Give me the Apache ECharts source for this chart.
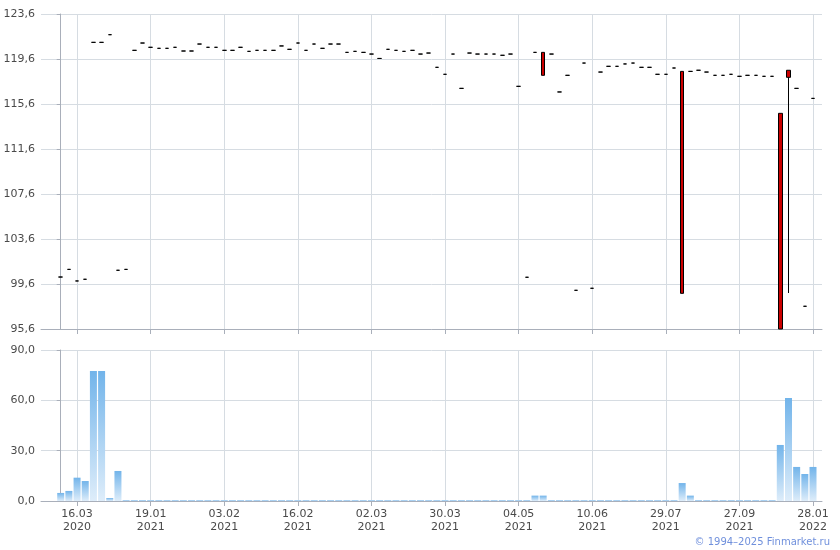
<!DOCTYPE html>
<html>
<head>
<meta charset="utf-8">
<script src="https://cdn.jsdelivr.net/npm/echarts@6/dist/echarts.min.js"></script>
<style>html,body{margin:0;padding:0;background:#fff}#c{width:840px;height:550px}</style>
</head>
<body>
<div id="c"></div>
<script>
var dates = [
 '11.03.2020','13.03.2020','16.03.2020','18.03.2020','20.03.2020','23.03.2020','25.03.2020','02.04.2020','10.04.2020','11.01.2021',
 '14.01.2021','19.01.2021','20.01.2021','21.01.2021','22.01.2021','25.01.2021','26.01.2021','28.01.2021','29.01.2021','01.02.2021',
 '03.02.2021','04.02.2021','05.02.2021','08.02.2021','09.02.2021','10.02.2021','11.02.2021','12.02.2021','15.02.2021','16.02.2021',
 '17.02.2021','18.02.2021','19.02.2021','22.02.2021','24.02.2021','25.02.2021','26.02.2021','01.03.2021','02.03.2021','04.03.2021',
 '05.03.2021','09.03.2021','11.03.2021','15.03.2021','17.03.2021','22.03.2021','25.03.2021','30.03.2021','02.04.2021','06.04.2021',
 '09.04.2021','13.04.2021','16.04.2021','20.04.2021','23.04.2021','28.04.2021','04.05.2021','06.05.2021','12.05.2021','14.05.2021',
 '18.05.2021','21.05.2021','25.05.2021','28.05.2021','03.06.2021','10.06.2021','15.06.2021','18.06.2021','23.06.2021','28.06.2021',
 '01.07.2021','07.07.2021','14.07.2021','21.07.2021','29.07.2021','03.08.2021','06.08.2021','12.08.2021','18.08.2021','25.08.2021',
 '31.08.2021','07.09.2021','15.09.2021','27.09.2021','05.10.2021','14.10.2021','25.10.2021','08.11.2021','19.11.2021','03.12.2021',
 '17.12.2021','29.12.2021','28.01.2022'
];
var opens = [
 100.22,100.9,99.87,100.02,121.08,121.08,121.76,100.82,100.9,120.37,
 121.02,120.64,120.55,120.55,120.64,120.31,120.31,120.93,120.64,120.64,
 120.37,120.37,120.64,120.28,120.37,120.37,120.37,120.76,120.46,121.02,
 120.37,120.93,120.55,120.93,120.93,120.19,120.28,120.19,120.04,119.65,
 120.46,120.37,120.28,120.37,120.04,120.13,118.86,118.24,120.04,116.99,
 120.13,120.04,120.04,120.04,119.93,120.04,117.17,100.2,120.19,120.19,
 120.04,116.67,118.15,99.04,119.24,99.22,118.44,118.95,118.95,119.16,
 119.24,118.86,118.86,118.24,118.24,118.8,118.5,118.5,118.6,118.44,
 118.15,118.15,118.24,118.06,118.15,118.15,118.06,118.06,114.77,118.6,
 116.99,97.62,116.1
];
var closes = [
 100.22,100.9,99.87,100.02,121.08,121.08,121.76,100.82,100.9,120.37,
 121.02,120.64,120.55,120.55,120.64,120.31,120.31,120.93,120.64,120.64,
 120.37,120.37,120.64,120.28,120.37,120.37,120.37,120.76,120.46,121.02,
 120.37,120.93,120.55,120.93,120.93,120.19,120.28,120.19,120.04,119.65,
 120.46,120.37,120.28,120.37,120.04,120.13,118.86,118.24,120.04,116.99,
 120.13,120.04,120.04,120.04,119.93,120.04,117.17,100.2,120.19,118.15,
 120.04,116.67,118.15,99.04,119.24,99.22,118.44,118.95,118.95,119.16,
 119.24,118.86,118.86,118.24,118.24,118.8,98.77,118.5,118.6,118.44,
 118.15,118.15,118.24,118.06,118.15,118.15,118.06,118.06,95.6,117.97,
 116.99,97.62,116.1
];
var lows = [
 100.22,100.9,99.87,100.02,121.08,121.08,121.76,100.82,100.9,120.37,
 121.02,120.64,120.55,120.55,120.64,120.31,120.31,120.93,120.64,120.64,
 120.37,120.37,120.64,120.28,120.37,120.37,120.37,120.76,120.46,121.02,
 120.37,120.93,120.55,120.93,120.93,120.19,120.28,120.19,120.04,119.65,
 120.46,120.37,120.28,120.37,120.04,120.13,118.86,118.24,120.04,116.99,
 120.13,120.04,120.04,120.04,119.93,120.04,117.17,100.2,120.19,118.15,
 120.04,116.67,118.15,99.04,119.24,99.22,118.44,118.95,118.95,119.16,
 119.24,118.86,118.86,118.24,118.24,118.8,98.77,118.5,118.6,118.44,
 118.15,118.15,118.24,118.06,118.15,118.15,118.06,118.06,95.6,98.8,
 116.99,97.62,116.1
];
var highs = [
 100.22,100.9,99.87,100.02,121.08,121.08,121.76,100.82,100.9,120.37,
 121.02,120.64,120.55,120.55,120.64,120.31,120.31,120.93,120.64,120.64,
 120.37,120.37,120.64,120.28,120.37,120.37,120.37,120.76,120.46,121.02,
 120.37,120.93,120.55,120.93,120.93,120.19,120.28,120.19,120.04,119.65,
 120.46,120.37,120.28,120.37,120.04,120.13,118.86,118.24,120.04,116.99,
 120.13,120.04,120.04,120.04,119.93,120.04,117.17,100.2,120.19,120.19,
 120.04,116.67,118.15,99.04,119.24,99.22,118.44,118.95,118.95,119.16,
 119.24,118.86,118.86,118.24,118.24,118.8,118.5,118.5,118.6,118.44,
 118.15,118.15,118.24,118.06,118.15,118.15,118.06,118.06,114.77,118.6,
 116.99,97.62,116.1
];
var volumes = [
 4.8,6.0,13.9,11.9,77.5,77.5,1.8,17.9,0.6,0.6,
 0.6,0.6,0.6,0.6,0.6,0.6,0.6,0.6,0.6,0.6,
 0.6,0.6,0.6,0.6,0.6,0.6,0.6,0.6,0.6,0.6,
 0.6,0.6,0.6,0.6,0.6,0.6,0.6,0.6,0.6,0.6,
 0.6,0.6,0.6,0.6,0.6,0.6,0.6,0.6,0.6,0.6,
 0.6,0.6,0.6,0.6,0.6,0.6,0.6,0.6,3.2,3.2,
 0.6,0.6,0.6,0.6,0.6,0.6,0.6,0.6,0.6,0.6,
 0.6,0.6,0.6,0.6,0.6,0.6,10.7,3.2,0.6,0.6,
 0.6,0.6,0.6,0.6,0.6,0.6,0.6,0.6,33.4,61.4,
 20.3,16.1,20.3
];
var labelIdx = [2, 11, 20, 29, 38, 47, 56, 65, 74, 83, 92];
var priceTicks = [95.6, 99.6, 103.6, 107.6, 111.6, 115.6, 119.6, 123.6];
var volTicks = [0, 30, 60, 90];

var candleData = dates.map(function (d, i) { return [i, opens[i], closes[i], lows[i], highs[i]]; });
var volData = dates.map(function (d, i) { return [i, volumes[i]]; });

var FONT = 'Verdana, "DejaVu Sans", sans-serif';
var axisLineColor = '#a9afba';
var gridColor = '#d6dce2';
var textColor = '#4a4a4a';

function xAxisCfg(gridIndex, showLabels) {
  return {
    type: 'value', gridIndex: gridIndex, min: -2.41, max: 93.1,
    axisLine: { show: true, onZero: false, lineStyle: { color: axisLineColor } },
    axisTick: { show: true, length: 5, customValues: labelIdx, lineStyle: { color: axisLineColor } },
    axisLabel: {
      show: showLabels, customValues: labelIdx, color: textColor, fontFamily: FONT, fontSize: 11,
      lineHeight: 13, margin: 7,
      formatter: function (v) { var d = dates[Math.round(v)] || ''; return d.slice(0, 5) + '\n' + d.slice(6); }
    },
    splitLine: { show: true, lineStyle: { color: gridColor } }
  };
}
function fmt(v) { return v.toFixed(1).replace('.', ','); }

var chart = echarts.init(document.getElementById('c'), null, { renderer: 'canvas' });
chart.setOption({
  animation: false,
  backgroundColor: '#fff',
  grid: [
    { left: 41, right: 18, top: 14, height: 315 },
    { left: 41, right: 18, top: 350, height: 151 }
  ],
  xAxis: [xAxisCfg(0, false), xAxisCfg(1, true)],
  yAxis: [
    {
      type: 'value', gridIndex: 0, min: priceTicks[0], max: priceTicks[priceTicks.length - 1], interval: 4,
      axisLine: { show: true, lineStyle: { color: axisLineColor } },
      axisTick: { show: true, length: 4, lineStyle: { color: axisLineColor } },
      axisLabel: { color: textColor, fontFamily: FONT, fontSize: 11, margin: 6, formatter: fmt },
      splitLine: { show: true, lineStyle: { color: gridColor } }
    },
    {
      type: 'value', gridIndex: 1, min: volTicks[0], max: volTicks[volTicks.length - 1], interval: 30,
      axisLine: { show: true, lineStyle: { color: axisLineColor } },
      axisTick: { show: true, length: 4, lineStyle: { color: axisLineColor } },
      axisLabel: { color: textColor, fontFamily: FONT, fontSize: 11, margin: 6, formatter: fmt },
      splitLine: { show: true, lineStyle: { color: gridColor } }
    }
  ],
  series: [
    {
      type: 'candlestick', xAxisIndex: 0, yAxisIndex: 0,
      encode: { x: 0, y: [1, 2, 3, 4] },
      barWidth: 4,
      itemStyle: { color: '#cc0000', color0: '#cc0000', borderColor: '#000', borderColor0: '#000', borderWidth: 1 },
      data: candleData
    },
    {
      type: 'bar', xAxisIndex: 1, yAxisIndex: 1,
      encode: { x: 0, y: 1 },
      barWidth: 7,
      itemStyle: {
        color: new echarts.graphic.LinearGradient(0, 0, 0, 1, [
          { offset: 0, color: '#72b4ea' },
          { offset: 1, color: '#deedfa' }
        ])
      },
      data: volData
    }
  ],
  graphic: [
    {
      type: 'text', right: 10, top: 537,
      style: { text: '© 1994–2025 Finmarket.ru', fill: '#7090dc', font: '10px ' + FONT }
    }
  ]
});
</script>
</body>
</html>
